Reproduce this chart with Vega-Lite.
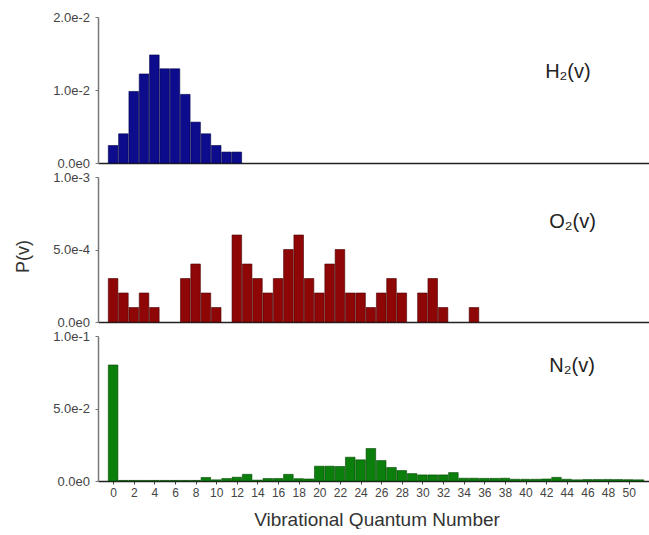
{
  "$schema": "https://vega.github.io/schema/vega-lite/v6.json",
  "padding": {"left": 14, "top": 11, "right": 0, "bottom": 0},
  "background": "white",
  "bounds": "flush",
  "spacing": 14,
  "config": {
    "font": "Liberation Sans",
    "view": {"stroke": null},
    "axis": {"labelColor": "#444", "titleColor": "#333", "grid": false, "titleFontWeight": "normal", "labelFont": "Liberation Sans", "titleFont": "Liberation Sans"}
  },
  "datasets": {
    "h2": [
      {"v": 0, "p": 0.0024}, {"v": 1, "p": 0.004}, {"v": 2, "p": 0.0098}, {"v": 3, "p": 0.0122},
      {"v": 4, "p": 0.0148}, {"v": 5, "p": 0.0129}, {"v": 6, "p": 0.0129}, {"v": 7, "p": 0.0094},
      {"v": 8, "p": 0.0056}, {"v": 9, "p": 0.004}, {"v": 10, "p": 0.0024}, {"v": 11, "p": 0.0015},
      {"v": 12, "p": 0.0015}
    ],
    "o2": [
      {"v": 0, "p": 0.0003}, {"v": 1, "p": 0.0002}, {"v": 2, "p": 0.0001}, {"v": 3, "p": 0.0002},
      {"v": 4, "p": 0.0001}, {"v": 7, "p": 0.0003}, {"v": 8, "p": 0.0004}, {"v": 9, "p": 0.0002},
      {"v": 10, "p": 0.0001}, {"v": 12, "p": 0.0006}, {"v": 13, "p": 0.0004}, {"v": 14, "p": 0.0003},
      {"v": 15, "p": 0.0002}, {"v": 16, "p": 0.0003}, {"v": 17, "p": 0.0005}, {"v": 18, "p": 0.0006},
      {"v": 19, "p": 0.0003}, {"v": 20, "p": 0.0002}, {"v": 21, "p": 0.0004}, {"v": 22, "p": 0.0005},
      {"v": 23, "p": 0.0002}, {"v": 24, "p": 0.0002}, {"v": 25, "p": 0.0001}, {"v": 26, "p": 0.0002},
      {"v": 27, "p": 0.0003}, {"v": 28, "p": 0.0002}, {"v": 30, "p": 0.0002}, {"v": 31, "p": 0.0003},
      {"v": 32, "p": 0.0001}, {"v": 35, "p": 0.0001}
    ],
    "n2": [
      {"v": 0, "p": 0.08}, {"v": 1, "p": 0.0004}, {"v": 2, "p": 0.0004}, {"v": 3, "p": 0.0004},
      {"v": 4, "p": 0.0004}, {"v": 5, "p": 0.0004}, {"v": 6, "p": 0.0004}, {"v": 7, "p": 0.0004},
      {"v": 8, "p": 0.0004}, {"v": 9, "p": 0.0024}, {"v": 10, "p": 0.0008}, {"v": 11, "p": 0.0017},
      {"v": 12, "p": 0.0026}, {"v": 13, "p": 0.0046}, {"v": 14, "p": 0.0006}, {"v": 15, "p": 0.0017},
      {"v": 16, "p": 0.0017}, {"v": 17, "p": 0.0046}, {"v": 18, "p": 0.0016}, {"v": 19, "p": 0.0014},
      {"v": 20, "p": 0.0102}, {"v": 21, "p": 0.0102}, {"v": 22, "p": 0.01}, {"v": 23, "p": 0.0164},
      {"v": 24, "p": 0.0146}, {"v": 25, "p": 0.0224}, {"v": 26, "p": 0.0141}, {"v": 27, "p": 0.0093},
      {"v": 28, "p": 0.0072}, {"v": 29, "p": 0.0051}, {"v": 30, "p": 0.0042}, {"v": 31, "p": 0.0042},
      {"v": 32, "p": 0.0042}, {"v": 33, "p": 0.0058}, {"v": 34, "p": 0.0019}, {"v": 35, "p": 0.0019},
      {"v": 36, "p": 0.0018}, {"v": 37, "p": 0.0018}, {"v": 38, "p": 0.0019}, {"v": 39, "p": 0.0012},
      {"v": 40, "p": 0.0012}, {"v": 41, "p": 0.0012}, {"v": 42, "p": 0.0014}, {"v": 43, "p": 0.0025},
      {"v": 44, "p": 0.0012}, {"v": 45, "p": 0.0008}, {"v": 46, "p": 0.001}, {"v": 47, "p": 0.001},
      {"v": 48, "p": 0.0011}, {"v": 49, "p": 0.001}, {"v": 50, "p": 0.0009}, {"v": 51, "p": 0.0008}
    ],
    "lab_h2": [{"label": "H₂(v)"}],
    "lab_o2": [{"label": "O₂(v)"}],
    "lab_n2": [{"label": "N₂(v)"}]
  },
  "vconcat": [
    {
      "width": 557, "height": 146,
      "layer": [
        {
          "data": {"name": "h2"},
          "mark": {"type": "bar", "width": 9.6, "color": "#0c0c8c", "stroke": "#00004a", "strokeWidth": 0.6},
          "encoding": {
            "x": {"field": "v", "type": "quantitative", "scale": {"domain": [-0.98, 52.07], "nice": false, "zero": false},
                  "axis": {"labels": false, "ticks": false, "title": null, "domainColor": "#222", "domainWidth": 1.5}},
            "y": {"field": "p", "type": "quantitative", "scale": {"domain": [0, 0.02], "nice": false},
                  "axis": {"values": [0, 0.01, 0.02], "format": ".1e", "labelExpr": "replace(datum.label, '+', '')", "title": null, "tickSize": 3, "labelPadding": 5.5, "labelFontSize": 13, "domainColor": "#777", "domainWidth": 1.5, "tickColor": "#777"}}
          }
        },
        {
          "mark": {"type": "rule", "color": "#8a8a8a", "strokeWidth": 1.5},
          "encoding": {"y": {"datum": 0.02, "type": "quantitative"}}
        },
        {
          "data": {"name": "lab_h2"},
          "mark": {"type": "text", "align": "left", "baseline": "middle", "fontSize": 20, "color": "#222"},
          "encoding": {
            "text": {"field": "label"},
            "x": {"datum": 41.9, "type": "quantitative", "axis": {"labels": false, "ticks": false, "title": null, "domainColor": "#222", "domainWidth": 1.5}},
            "y": {"datum": 0.01247, "type": "quantitative"}
          }
        }
      ]
    },
    {
      "width": 557, "height": 145,
      "layer": [
        {
          "data": {"name": "o2"},
          "mark": {"type": "bar", "width": 9.6, "color": "#8e0606", "stroke": "#4a0000", "strokeWidth": 0.6},
          "encoding": {
            "x": {"field": "v", "type": "quantitative", "scale": {"domain": [-0.98, 52.07], "nice": false, "zero": false},
                  "axis": {"labels": false, "ticks": false, "title": null, "domainColor": "#222", "domainWidth": 1.5}},
            "y": {"field": "p", "type": "quantitative", "scale": {"domain": [0, 0.001], "nice": false},
                  "axis": {"values": [0, 0.0005, 0.001], "format": ".1e", "labelExpr": "replace(datum.label, '+', '')", "title": "P(v)", "titleFontSize": 18, "titlePadding": 20, "titleY": 79, "tickSize": 3, "labelPadding": 5.5, "labelFontSize": 13, "domainColor": "#777", "domainWidth": 1.5, "tickColor": "#777"}}
          }
        },
        {
          "mark": {"type": "rule", "color": "#8a8a8a", "strokeWidth": 1.5},
          "encoding": {"y": {"datum": 0.001, "type": "quantitative"}}
        },
        {
          "data": {"name": "lab_o2"},
          "mark": {"type": "text", "align": "left", "baseline": "middle", "fontSize": 20, "color": "#222"},
          "encoding": {
            "text": {"field": "label"},
            "x": {"datum": 42.3, "type": "quantitative", "axis": {"labels": false, "ticks": false, "title": null, "domainColor": "#222", "domainWidth": 1.5}},
            "y": {"datum": 0.00069, "type": "quantitative"}
          }
        }
      ]
    },
    {
      "width": 557, "height": 145,
      "layer": [
        {
          "data": {"name": "n2"},
          "mark": {"type": "bar", "width": 9.6, "color": "#0b7f0b", "stroke": "#044404", "strokeWidth": 0.6},
          "encoding": {
            "x": {"field": "v", "type": "quantitative", "scale": {"domain": [-0.98, 52.07], "nice": false, "zero": false},
                  "axis": {"values": [0, 2, 4, 6, 8, 10, 12, 14, 16, 18, 20, 22, 24, 26, 28, 30, 32, 34, 36, 38, 40, 42, 44, 46, 48, 50], "labelOverlap": false, "labelFlush": false, "title": "Vibrational Quantum Number", "titleFontSize": 19, "titlePadding": 12, "labelFontSize": 12, "tickSize": 3, "labelPadding": 3, "domainColor": "#222", "domainWidth": 1.5, "tickColor": "#444"}},
            "y": {"field": "p", "type": "quantitative", "scale": {"domain": [0, 0.1], "nice": false},
                  "axis": {"values": [0, 0.05, 0.1], "format": ".1e", "labelExpr": "replace(datum.label, '+', '')", "title": null, "tickSize": 3, "labelPadding": 5.5, "labelFontSize": 13, "domainColor": "#777", "domainWidth": 1.5, "tickColor": "#777"}}
          }
        },
        {
          "mark": {"type": "rule", "color": "#8a8a8a", "strokeWidth": 1.5},
          "encoding": {"y": {"datum": 0.1, "type": "quantitative"}}
        },
        {
          "data": {"name": "lab_n2"},
          "mark": {"type": "text", "align": "left", "baseline": "middle", "fontSize": 20, "color": "#222"},
          "encoding": {
            "text": {"field": "label"},
            "x": {"datum": 42.3, "type": "quantitative", "axis": {"values": [0, 2, 4, 6, 8, 10, 12, 14, 16, 18, 20, 22, 24, 26, 28, 30, 32, 34, 36, 38, 40, 42, 44, 46, 48, 50], "labelOverlap": false, "labelFlush": false, "title": "Vibrational Quantum Number", "titleFontSize": 19, "titlePadding": 12, "labelFontSize": 12, "tickSize": 3, "labelPadding": 3, "domainColor": "#222", "domainWidth": 1.5, "tickColor": "#444"}},
            "y": {"datum": 0.0793, "type": "quantitative"}
          }
        }
      ]
    }
  ]
}
